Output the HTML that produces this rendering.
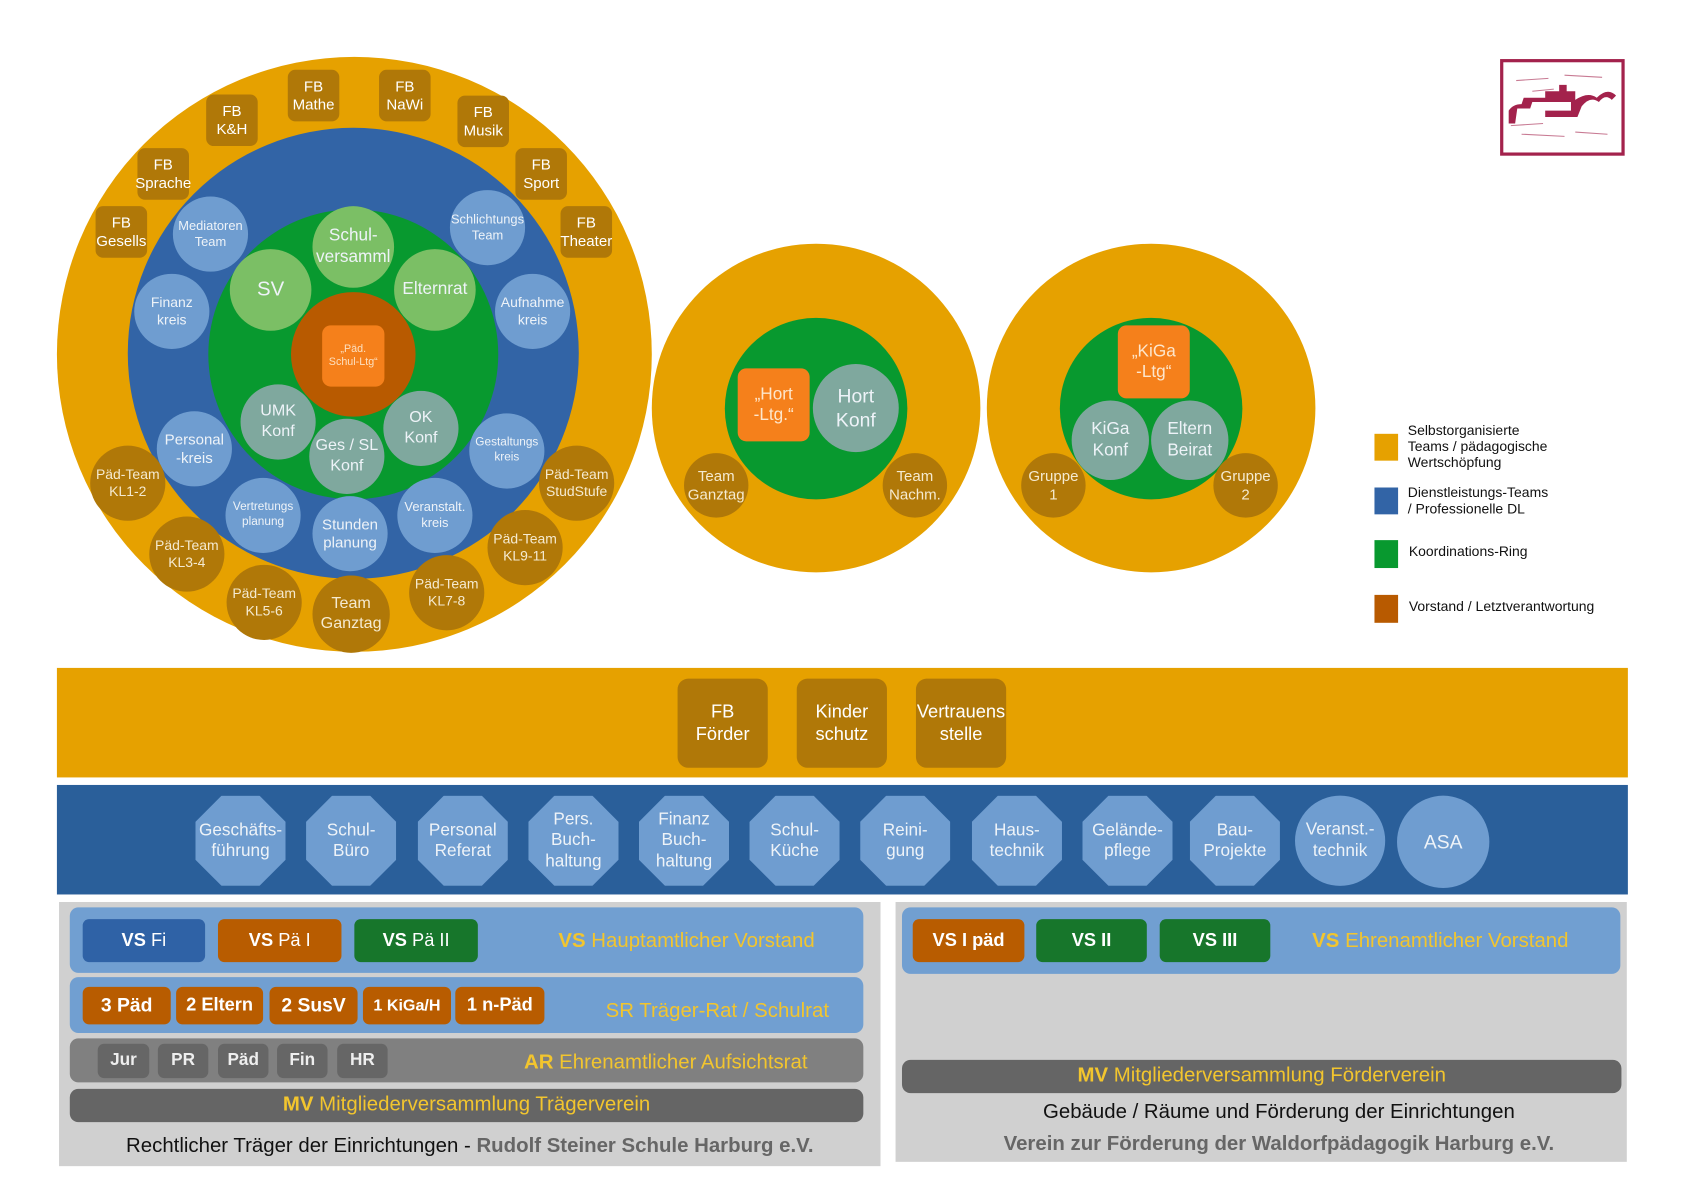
<!DOCTYPE html>
<html><head><meta charset="utf-8"><style>
html,body{margin:0;padding:0;background:#fff;width:1683px;height:1190px;overflow:hidden}
#w{position:absolute;left:0;top:0;width:1560px;height:1103px;transform:scale(1.0738);transform-origin:0 0;font-family:"Liberation Sans Narrow","Liberation Sans",sans-serif}
#w div{position:absolute;box-sizing:border-box}
.c{border-radius:50%;display:flex;align-items:center;justify-content:center;text-align:center;color:#eef3f8;line-height:1.25}
.b{display:flex;align-items:center;justify-content:center;text-align:center;line-height:1.2}
.fb{width:48px;height:48px;background:#b07808;border-radius:7px;color:#fff;font-size:14px;font-family:"Liberation Sans",sans-serif}
.lb{background:#6f9dd0;font-size:12px}
.br{background:#b07808;font-size:13px;color:#f5ead0}
.lg{background:#7bbf65;font-size:16px}
.tg{background:#7fa89e;font-size:15px}
.oct{width:84px;height:84px;background:#6f9dd0;clip-path:polygon(29% 0,71% 0,100% 29%,100% 71%,71% 100%,29% 100%,0 71%,0 29%);color:#eef3f8;font-size:16px}
.row{border-radius:8px}
.k{border-radius:6px;color:#fff;font-weight:bold;font-size:17px}
.y{color:#f2c52e}
.leg{width:22px;height:25px}
.lt{font-family:"Liberation Sans",sans-serif;font-size:13px;color:#111;line-height:1.15}
</style></head><body><div id="w">

<div class="c" style="left:53px;top:53px;width:554px;height:554px;background:#e6a100"></div>
<div class="c" style="left:119px;top:119px;width:420px;height:420px;background:#3264a6"></div>
<div class="c" style="left:194px;top:195px;width:270px;height:270px;background:#08992f"></div>
<div class="c" style="left:271px;top:272px;width:116px;height:116px;background:#b85a00"></div>
<div class="b" style="left:300px;top:303px;width:58px;height:57px;background:#f5801b;border-radius:8px;color:#fde0c0;font-size:10px">„Päd.<br>Schul-Ltg“</div>

<div class="c lg" style="left:291px;top:192px;width:76px;height:76px">Schul-<br>versamml</div>
<div class="c lg" style="left:214px;top:232px;width:76px;height:76px;font-size:19px">SV</div>
<div class="c lg" style="left:367px;top:232px;width:76px;height:76px">Elternrat</div>
<div class="c tg" style="left:224px;top:358px;width:70px;height:70px">UMK<br>Konf</div>
<div class="c tg" style="left:357px;top:364px;width:70px;height:70px">OK<br>Konf</div>
<div class="c tg" style="left:288px;top:390px;width:70px;height:70px">Ges / SL<br>Konf</div>

<div class="c lb" style="left:161px;top:183px;width:70px;height:70px">Mediatoren<br>Team</div>
<div class="c lb" style="left:419px;top:177px;width:70px;height:70px">Schlichtungs<br>Team</div>
<div class="c lb" style="left:125px;top:255px;width:70px;height:70px;font-size:13px">Finanz<br>kreis</div>
<div class="c lb" style="left:461px;top:255px;width:70px;height:70px;font-size:13px">Aufnahme<br>kreis</div>
<div class="c lb" style="left:146px;top:383px;width:70px;height:70px;font-size:14px">Personal<br>-kreis</div>
<div class="c lb" style="left:437px;top:385px;width:70px;height:70px;font-size:11px">Gestaltungs<br>kreis</div>
<div class="c lb" style="left:210px;top:445px;width:70px;height:70px;font-size:11px">Vertretungs<br>planung</div>
<div class="c lb" style="left:291px;top:462px;width:70px;height:70px;font-size:14px">Stunden<br>planung</div>
<div class="c lb" style="left:370px;top:445px;width:70px;height:70px">Veranstalt.<br>kreis</div>

<div class="c br" style="left:84px;top:415px;width:70px;height:70px">Päd-Team<br>KL1-2</div>
<div class="c br" style="left:139px;top:481px;width:70px;height:70px">Päd-Team<br>KL3-4</div>
<div class="c br" style="left:211px;top:526px;width:70px;height:70px">Päd-Team<br>KL5-6</div>
<div class="c br" style="left:291px;top:536px;width:72px;height:72px;font-size:15px">Team<br>Ganztag</div>
<div class="c br" style="left:381px;top:517px;width:70px;height:70px">Päd-Team<br>KL7-8</div>
<div class="c br" style="left:454px;top:475px;width:70px;height:70px">Päd-Team<br>KL9-11</div>
<div class="c br" style="left:502px;top:415px;width:70px;height:70px">Päd-Team<br>StudStufe</div>

<div class="b fb" style="left:192px;top:88px">FB<br>K&amp;H</div>
<div class="b fb" style="left:268px;top:65px">FB<br>Mathe</div>
<div class="b fb" style="left:353px;top:65px">FB<br>NaWi</div>
<div class="b fb" style="left:426px;top:89px">FB<br>Musik</div>
<div class="b fb" style="left:480px;top:138px">FB<br>Sport</div>
<div class="b fb" style="left:522px;top:192px">FB<br>Theater</div>
<div class="b fb" style="left:128px;top:138px">FB<br>Sprache</div>
<div class="b fb" style="left:89px;top:192px">FB<br>Gesells</div>

<div class="c" style="left:607px;top:227px;width:306px;height:306px;background:#e6a100"></div>
<div class="c" style="left:675px;top:296px;width:170px;height:169px;background:#08992f"></div>
<div class="b" style="left:687px;top:343px;width:67px;height:68px;background:#f5801b;border-radius:8px;color:#fde6cc;font-size:16px">„Hort<br>-Ltg.“</div>
<div class="c tg" style="left:757px;top:339px;width:80px;height:82px;font-size:18px">Hort<br>Konf</div>
<div class="c br" style="left:637px;top:422px;width:60px;height:60px;font-size:14px">Team<br>Ganztag</div>
<div class="c br" style="left:822px;top:422px;width:60px;height:60px;font-size:14px">Team<br>Nachm.</div>

<div class="c" style="left:919px;top:227px;width:306px;height:306px;background:#e6a100"></div>
<div class="c" style="left:987px;top:296px;width:170px;height:169px;background:#08992f"></div>
<div class="b" style="left:1041px;top:303px;width:67px;height:68px;background:#f5801b;border-radius:8px;color:#fde6cc;font-size:16px">„KiGa<br>-Ltg“</div>
<div class="c tg" style="left:998px;top:373px;width:72px;height:74px;font-size:16px">KiGa<br>Konf</div>
<div class="c tg" style="left:1072px;top:373px;width:72px;height:74px;font-size:16px">Eltern<br>Beirat</div>
<div class="c br" style="left:951px;top:422px;width:60px;height:60px;font-size:14px">Gruppe<br>1</div>
<div class="c br" style="left:1130px;top:422px;width:60px;height:60px;font-size:14px">Gruppe<br>2</div>

<div style="left:1397px;top:55px;width:116px;height:90px;border:3px solid #a3224c"></div>
<svg style="position:absolute;left:1397px;top:55px" width="116" height="90" viewBox="0 0 116 90">
<g stroke="#a3224c" stroke-width="1" opacity="0.6"><line x1="15" y1="20" x2="45" y2="18"/><line x1="60" y1="15" x2="95" y2="17"/><line x1="20" y1="70" x2="60" y2="72"/><line x1="70" y1="68" x2="100" y2="70"/><line x1="30" y1="30" x2="50" y2="28"/><line x1="10" y1="62" x2="40" y2="60"/></g>
<path d="M8 60 L8 48 Q12 42 20 42 L22 36 L42 36 L42 30 L55 30 L55 24 L62 24 L62 30 L70 30 L70 38 Q82 30 90 36 Q100 26 108 34 L104 38 Q98 32 92 40 Q84 34 76 44 L72 54 L42 54 L42 48 L66 48 L66 40 L30 40 L28 46 L16 46 L14 60 Z" fill="#a3224c"/>
</svg>

<div class="leg" style="left:1280px;top:404px;background:#e6a100"></div>
<div class="lt" style="left:1311px;top:394px">Selbstorganisierte<br>Teams / pädagogische<br>Wertschöpfung</div>
<div class="leg" style="left:1280px;top:454px;background:#3264a6"></div>
<div class="lt" style="left:1311px;top:452px">Dienstleistungs-Teams<br>/ Professionelle DL</div>
<div class="leg" style="left:1280px;top:503px;background:#08992f;height:26px"></div>
<div class="lt" style="left:1312px;top:507px">Koordinations-Ring</div>
<div class="leg" style="left:1280px;top:554px;background:#b85a00;height:26px"></div>
<div class="lt" style="left:1312px;top:558px">Vorstand / Letztverantwortung</div>

<div style="left:53px;top:622px;width:1463px;height:102px;background:#e6a100"></div>
<div class="b" style="left:631px;top:632px;width:84px;height:83px;background:#b07808;border-radius:10px;color:#fff;font-size:17px">FB<br>Förder</div>
<div class="b" style="left:742px;top:632px;width:84px;height:83px;background:#b07808;border-radius:10px;color:#fff;font-size:17px">Kinder<br>schutz</div>
<div class="b" style="left:853px;top:632px;width:84px;height:83px;background:#b07808;border-radius:10px;color:#fff;font-size:17px">Vertrauens<br>stelle</div>

<div style="left:53px;top:731px;width:1463px;height:102px;background:#2a5f9a"></div>
<div class="b oct" style="left:182px;top:741px">Geschäfts-<br>führung</div>
<div class="b oct" style="left:285px;top:741px">Schul-<br>Büro</div>
<div class="b oct" style="left:389px;top:741px">Personal<br>Referat</div>
<div class="b oct" style="left:492px;top:741px">Pers.<br>Buch-<br>haltung</div>
<div class="b oct" style="left:595px;top:741px">Finanz<br>Buch-<br>haltung</div>
<div class="b oct" style="left:698px;top:741px">Schul-<br>Küche</div>
<div class="b oct" style="left:801px;top:741px">Reini-<br>gung</div>
<div class="b oct" style="left:905px;top:741px">Haus-<br>technik</div>
<div class="b oct" style="left:1008px;top:741px">Gelände-<br>pflege</div>
<div class="b oct" style="left:1108px;top:741px">Bau-<br>Projekte</div>
<div class="c" style="left:1206px;top:741px;width:84px;height:84px;background:#6f9dd0;font-size:16px">Veranst.-<br>technik</div>
<div class="c" style="left:1301px;top:741px;width:86px;height:86px;background:#6f9dd0;font-size:18px">ASA</div>

<div style="left:55px;top:840px;width:765px;height:246px;background:#d0d0d0"></div>
<div class="row" style="left:65px;top:845px;width:739px;height:61px;background:#719fd1"></div>
<div class="b k" style="left:77px;top:856px;width:114px;height:40px;background:#2f62a6"><span>VS <span style="font-weight:normal">Fi</span></span></div>
<div class="b k" style="left:203px;top:856px;width:115px;height:40px;background:#b85c00"><span>VS <span style="font-weight:normal">Pä I</span></span></div>
<div class="b k" style="left:330px;top:856px;width:115px;height:40px;background:#17762b"><span>VS <span style="font-weight:normal">Pä II</span></span></div>
<div class="y" style="left:520px;top:866px;font-size:19px;white-space:nowrap"><b>VS</b> Hauptamtlicher Vorstand</div>

<div class="row" style="left:65px;top:910px;width:739px;height:52px;background:#719fd1"></div>
<div class="b k" style="left:77px;top:919px;width:82px;height:35px;background:#b85c00;font-size:18px">3 Päd</div>
<div class="b k" style="left:164px;top:919px;width:81px;height:35px;background:#b85c00;font-size:17px">2 Eltern</div>
<div class="b k" style="left:251px;top:919px;width:82px;height:35px;background:#b85c00;font-size:18px">2 SusV</div>
<div class="b k" style="left:338px;top:919px;width:82px;height:35px;background:#b85c00;font-size:15px">1 KiGa/H</div>
<div class="b k" style="left:424px;top:919px;width:83px;height:35px;background:#b85c00;font-size:17px">1 n-Päd</div>
<div class="y" style="left:564px;top:931px;font-size:19px;white-space:nowrap">SR Träger-Rat / Schulrat</div>

<div class="row" style="left:65px;top:967px;width:739px;height:41px;background:#808080"></div>
<div class="b k" style="left:91px;top:972px;width:48px;height:32px;background:#666;color:#eee;font-size:16px">Jur</div>
<div class="b k" style="left:147px;top:972px;width:47px;height:32px;background:#666;color:#eee;font-size:16px">PR</div>
<div class="b k" style="left:203px;top:972px;width:47px;height:32px;background:#666;color:#eee;font-size:16px">Päd</div>
<div class="b k" style="left:258px;top:972px;width:47px;height:32px;background:#666;color:#eee;font-size:16px">Fin</div>
<div class="b k" style="left:314px;top:972px;width:47px;height:32px;background:#666;color:#eee;font-size:16px">HR</div>
<div class="y" style="left:488px;top:979px;font-size:19px;white-space:nowrap"><b>AR</b> Ehrenamtlicher Aufsichtsrat</div>

<div class="b row" style="left:65px;top:1014px;width:739px;height:31px;background:#656565;font-size:19px"><span class="y"><b>MV</b> Mitgliederversammlung Trägerverein</span></div>
<div class="b" style="left:55px;top:1054px;width:765px;height:28px;font-size:19px;color:#111;white-space:nowrap">Rechtlicher Träger der Einrichtungen -&nbsp;<b style="color:#666">Rudolf Steiner Schule Harburg e.V.</b></div>

<div style="left:834px;top:840px;width:681px;height:242px;background:#d0d0d0"></div>
<div class="row" style="left:840px;top:845px;width:669px;height:62px;background:#719fd1"></div>
<div class="b k" style="left:850px;top:856px;width:104px;height:40px;background:#b85c00">VS I päd</div>
<div class="b k" style="left:965px;top:856px;width:103px;height:40px;background:#17762b">VS II</div>
<div class="b k" style="left:1080px;top:856px;width:103px;height:40px;background:#17762b">VS III</div>
<div class="y" style="left:1222px;top:866px;font-size:19px;white-space:nowrap"><b>VS</b> Ehrenamtlicher Vorstand</div>
<div class="b row" style="left:840px;top:987px;width:670px;height:31px;background:#656565;font-size:19px"><span class="y"><b>MV</b> Mitgliederversammlung Förderverein</span></div>
<div class="b" style="left:834px;top:1022px;width:714px;height:28px;font-size:19px;color:#111;white-space:nowrap">Gebäude / Räume und Förderung der Einrichtungen</div>
<div class="b" style="left:834px;top:1052px;width:714px;height:28px;font-size:19px;color:#666;font-weight:bold;white-space:nowrap">Verein zur Förderung der Waldorfpädagogik Harburg e.V.</div>

</div></body></html>
